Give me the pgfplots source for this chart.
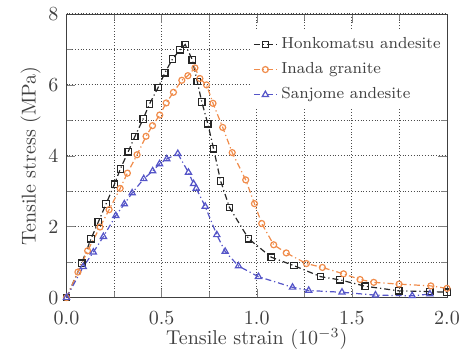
\documentclass[border=0pt]{standalone}
\usepackage{pgfplots}
\pgfplotsset{compat=1.18}
\definecolor{myorange}{RGB}{240,140,75}
\definecolor{myblue}{RGB}{85,85,200}
\begin{document}
\begin{tikzpicture}
\begin{axis}[
  scale only axis,
  width=190.25pt, height=141.8pt,
  xmin=0, xmax=2, ymin=0, ymax=8,
  xtick={0,0.5,1,1.5,2},
  ytick={0,2,4,6,8},
  minor xtick={0.25,0.75,1.25,1.75},
  minor ytick={1,3,5,7},
  xticklabel style={yshift=-3.5pt, /pgf/number format/fixed, /pgf/number format/fixed zerofill, /pgf/number format/precision=1},
  yticklabel style={xshift=-0.5pt},
  tick label style={black!75},
  label style={black!75},
  grid=both,
  major grid style={densely dotted, black!70, line width=0.5pt},
  minor grid style={densely dotted, black!70, line width=0.5pt},
  tick align=inside,
  axis line style={black!75},
  xlabel={Tensile strain ($10^{-3}$)},
  ylabel={Tensile stress (MPa)},
  xlabel style={yshift=5pt},
  ylabel style={yshift=-3pt},
  legend style={at={(1,0.94)}, anchor=north east, draw=none, fill=white, font=\footnotesize, inner sep=1pt, row sep=1.5pt, legend cell align=left, text=black!75},
  legend image code/.code={\draw[mark repeat=2,mark phase=2] plot coordinates {(0cm,0cm) (0.2cm,0cm) (0.4cm,0cm)};},
  every axis plot/.append style={line width=0.6pt},
  mydd/.style={dash pattern=on 3pt off 1.5pt on 0.6pt off 1.5pt},
]
\addplot[black!85, mydd, mark=square, mark size=1.6pt, mark options={solid, line width=0.6pt}] coordinates {
(0,0) (0.080,0.97) (0.129,1.66) (0.167,2.13) (0.208,2.64) (0.252,3.20) (0.283,3.63)
(0.324,4.11) (0.359,4.54) (0.403,5.04) (0.436,5.46) (0.482,5.93) (0.517,6.34)
(0.557,6.73) (0.597,6.99) (0.624,7.14) (0.661,6.71) (0.687,6.10) (0.711,5.52)
(0.743,4.90) (0.773,4.20) (0.810,3.29) (0.857,2.54) (0.957,1.66) (1.076,1.14)
(1.196,0.90) (1.336,0.59) (1.438,0.50) (1.570,0.32) (1.747,0.19) (1.910,0.17) (2.0,0.15)
};
\addlegendentry{Honkomatsu andesite}
\addplot[myorange, mydd, mark=o, mark size=1.5pt, mark options={solid, line width=0.6pt}] coordinates {
(0,0) (0.060,0.72) (0.111,1.32) (0.176,1.99) (0.224,2.48) (0.282,3.08) (0.320,3.51)
(0.371,4.03) (0.418,4.55) (0.452,4.85) (0.490,5.15) (0.524,5.49) (0.562,5.79)
(0.606,6.13) (0.638,6.26) (0.675,6.48) (0.701,6.18) (0.736,6.00) (0.770,5.48)
(0.821,4.80) (0.871,4.09) (0.942,3.32) (0.988,2.65) (1.026,2.09) (1.089,1.49)
(1.155,1.26) (1.261,0.96) (1.345,0.85) (1.456,0.67) (1.543,0.51) (1.615,0.43)
(1.748,0.38) (1.915,0.33) (2.0,0.26)
};
\addlegendentry{Inada granite}
\addplot[myblue, mydd, mark=triangle, mark size=1.8pt, mark options={solid, line width=0.6pt}] coordinates {
(0,0) (0.088,0.87) (0.141,1.28) (0.194,1.72) (0.259,2.31) (0.304,2.64) (0.345,2.95)
(0.406,3.35) (0.453,3.57) (0.489,3.77) (0.527,3.91) (0.585,4.06) (0.641,3.53)
(0.668,3.21) (0.682,3.08) (0.729,2.57) (0.790,1.77) (0.834,1.30) (0.904,0.89)
(1.009,0.59) (1.188,0.29) (1.273,0.20) (1.448,0.15) (1.624,0.07) (1.817,0.05) (1.910,0.10)
};
\addlegendentry{Sanjome andesite}
\end{axis}
\pgfresetboundingbox
\path ([shift={(-33.25pt,-29.2pt)}]current axis.south west) rectangle ([shift={(6pt,7pt)}]current axis.north east);
\end{tikzpicture}
\end{document}
